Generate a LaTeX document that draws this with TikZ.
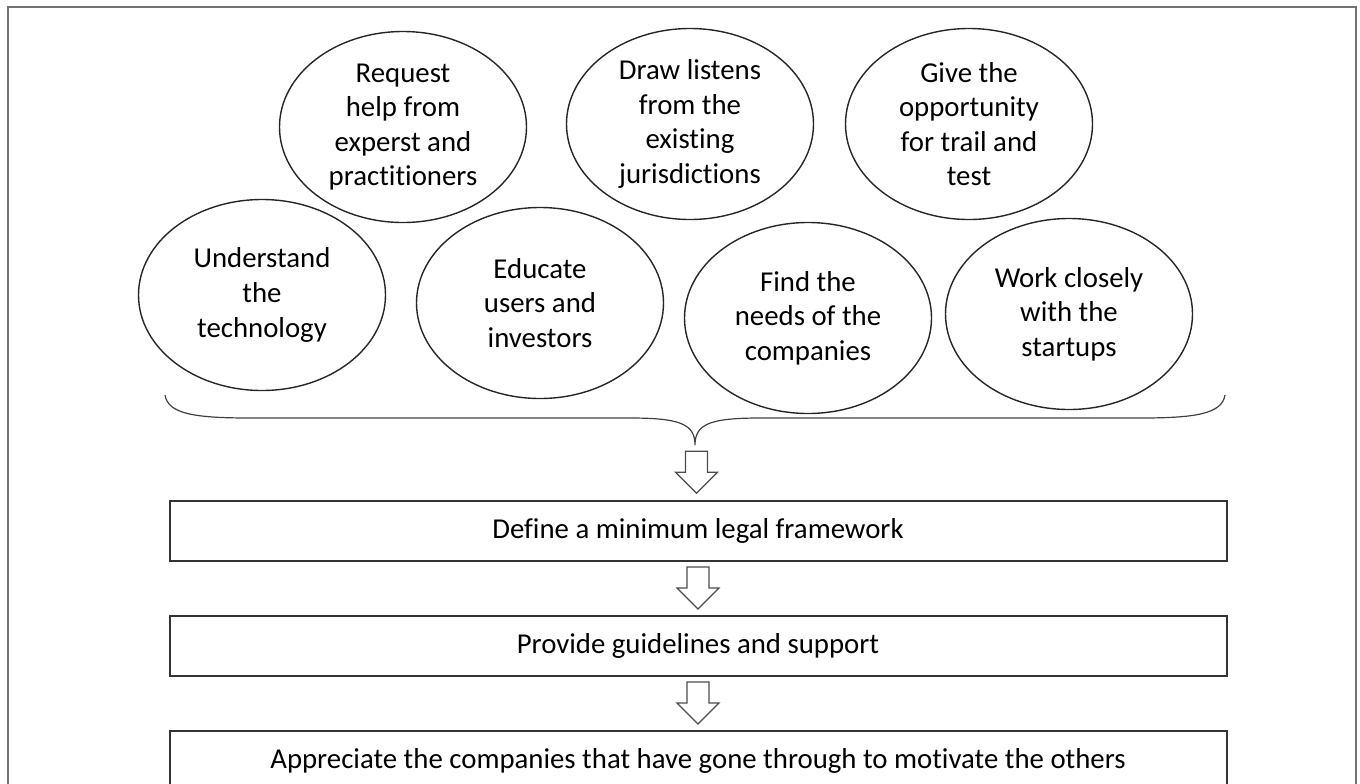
\documentclass[tikz,border=0pt]{standalone}
\usepackage{fontspec}
\setmainfont{Carlito}[RawFeature={-liga}]
\usetikzlibrary{calc,positioning,shapes}

\tikzset{
  idea/.style={ellipse,draw=black!85,line width=0.7pt,minimum width=123.5pt,
    minimum height=95.5pt,inner sep=0pt,align=center,
    font=\fontsize{14.4}{17.3}\selectfont},
  stage/.style={rectangle,draw=black!80,line width=1pt,minimum width=528.5pt,
    minimum height=30pt,font=\fontsize{14.4}{17.3}\selectfont},
  down arrow/.pic={
    \draw[draw=black!70,line width=0.6pt,fill=white]
      (-11,-21) -- (11,-21) -- (11,0) -- (21,0) -- (0,21) -- (-21,0) -- (-11,0) -- cycle;
  }
}

\begin{document}
\begin{tikzpicture}[x=0.5pt,y=-0.5pt]
\clip (0,0) rectangle (1360,783);
\draw[black!55,line width=1pt] (8,7) rectangle (1356,830);

% upper row
\node (request) at (403,127) [idea] {Request\\help from\\experst and\\practitioners};
\node (listens) at (690,124) [idea] {Draw listens\\from the\\existing\\jurisdictions};
\node (trial) at (969,124) [idea] {Give the\\opportunity\\for trail and\\test};

% lower row
\node (understand) at (262,295) [idea] {Understand\\the\\technology};
\node (educate) at (540,303) [idea] {Educate\\users and\\investors};
\node (needs) at (808,318) [idea] {Find the\\needs of the\\companies};
\node (startups) at (1069,314) [idea] {Work closely\\with the\\startups};

% brace under the circles
\coordinate (BL) at (165,395);
\coordinate (BR) at (1225,395);
\coordinate (T) at (695,445);
\draw[black!75,line width=0.6pt]
(BL) .. controls (168,414) and (195,418) .. (250,418) -- (630,418)
     .. controls (680,418) and (695,424) .. (T)
     .. controls (695,424) and (710,418) .. (760,418) -- (1140,418)
     .. controls (1195,418) and (1222,414) .. (BR);

% steps
\node (framework) at (698,530.5) [stage] {Define a minimum legal framework};
\node (guidelines) [stage,below=26.5pt of framework] {Provide guidelines and support};
\node (appreciate) [stage,below=26.5pt of guidelines] {Appreciate the companies that have gone through to motivate the others};

\pic at ($(T)!0.5!(framework.north)$) {down arrow};
\pic at ($(framework.south)!0.5!(guidelines.north)$) {down arrow};
\pic at ($(guidelines.south)!0.5!(appreciate.north)$) {down arrow};

\end{tikzpicture}
\end{document}
